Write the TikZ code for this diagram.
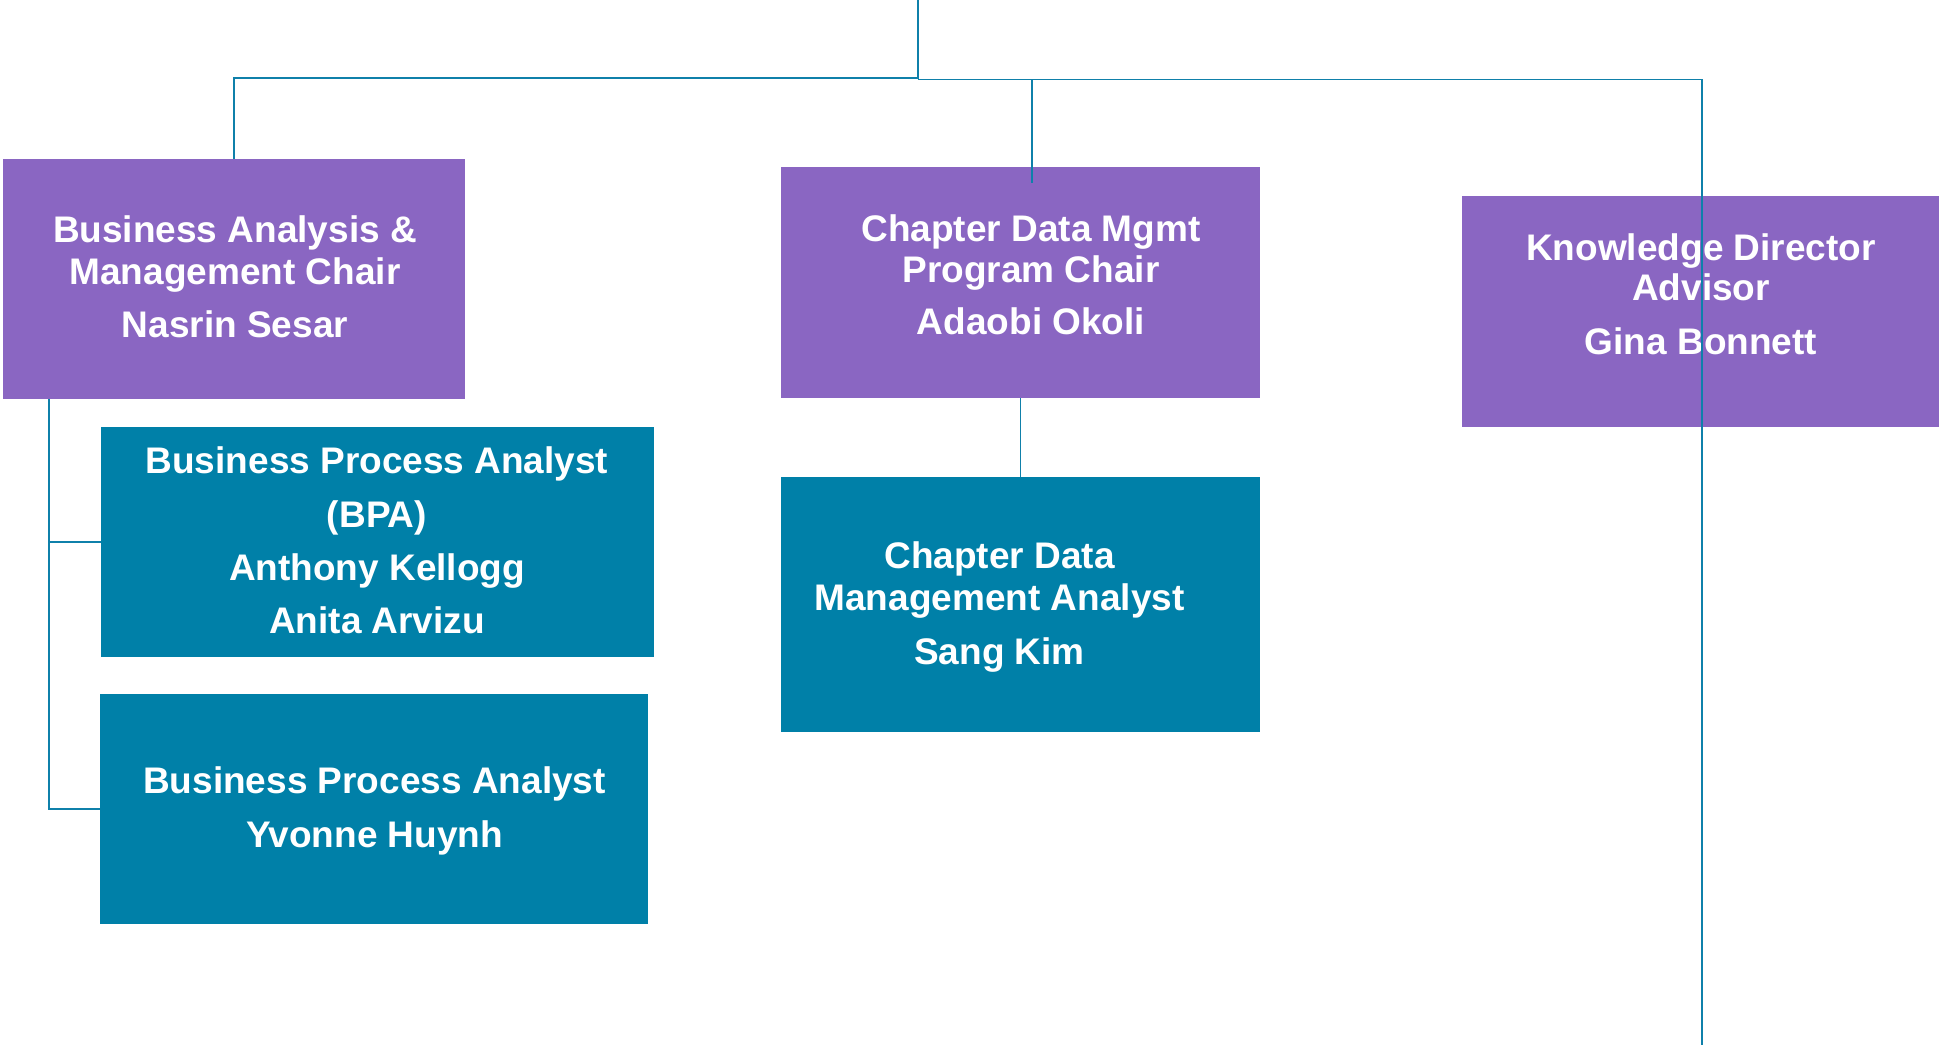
\documentclass[tikz,border=0pt]{standalone}
\usepackage{fontspec}
\setmainfont{Liberation Sans}
\definecolor{boxpurple}{HTML}{8A66C2}
\definecolor{boxteal}{HTML}{0080A8}
\definecolor{linkblue}{HTML}{0F80AA}
\begin{document}
\begin{tikzpicture}[x=0.5pt,y=-0.5pt,
  box/.style={draw=none, inner sep=0pt, outer sep=0pt, anchor=north west},
  pbox/.style={box, fill=boxpurple},
  tbox/.style={box, fill=boxteal},
  txt/.style={text=white, font=\fontsize{18.5}{22}\selectfont\bfseries, anchor=base, inner sep=0pt},
  link/.style={draw=linkblue, line width=0.75pt},
  ]
\useasboundingbox (0,0) rectangle (1939,1045);
% boxes
\node[pbox, minimum width=231pt, minimum height=120pt] (A) at (3,159) {};
\node[pbox, minimum width=239.5pt, minimum height=115.5pt] (B) at (781,167) {};
\node[pbox, minimum width=239pt, minimum height=115.5pt] (C) at (1462,196) {};
\node[tbox, minimum width=276.5pt, minimum height=115pt] (D) at (101,427) {};
\node[tbox, minimum width=274pt, minimum height=115pt] (E) at (100,694) {};
\node[tbox, minimum width=239.5pt, minimum height=127.5pt] (F) at (781,477) {};
% texts
\node[txt] (a1) at (235,242.7) {Business Analysis \&};
\node[txt] (a2) at (235,284) {Management Chair};
\node[txt] (a3) at (235,337.3) {Nasrin Sesar};
\node[txt] (b1) at (1031,241.7) {Chapter Data Mgmt};
\node[txt] (b2) at (1031,282.7) {Program Chair};
\node[txt] (b3) at (1031,334.3) {Adaobi Okoli};
\node[txt] (c1) at (1701,260) {Knowledge Director};
\node[txt] (c2) at (1701,300) {Advisor};
\node[txt] (c3) at (1701,354.3) {Gina Bonnett};
\node[txt] (d1) at (377,473.4) {Business Process Analyst};
\node[txt] (d2) at (377,527) {(BPA)};
\node[txt] (d3) at (377,580.4) {Anthony Kellogg};
\node[txt] (d4) at (377,633.2) {Anita Arvizu};
\node[txt] (e1) at (374.5,793.7) {Business Process Analyst};
\node[txt] (e2) at (374.5,847.1) {Yvonne Huynh};
\node[txt] (f1) at (999.5,568.3) {Chapter Data};
\node[txt] (f2) at (999.5,610) {Management Analyst};
\node[txt] (f3) at (999.5,664) {Sang Kim};
% connectors
\coordinate (top) at (918,0);
\coordinate (jl) at (234,78);
\draw[link] (top) |- (jl) -- (A.north);
\coordinate (jr) at (918,79.5);
\coordinate (cbot) at (1702,1045);
\draw[link] (jr) -| (cbot);
\coordinate (bj) at (1032,79.5);
\coordinate (bin) at (1032,183);
\draw[link] (bj) -- (bin);
\draw[link] (B.south) -- (F.north);
\coordinate (at) at (49,399);
\draw[link, line width=1pt] (at) |- (E.west);
\draw[link, line width=1pt] (at |- D.west) -- (D.west);
\end{tikzpicture}
\end{document}
